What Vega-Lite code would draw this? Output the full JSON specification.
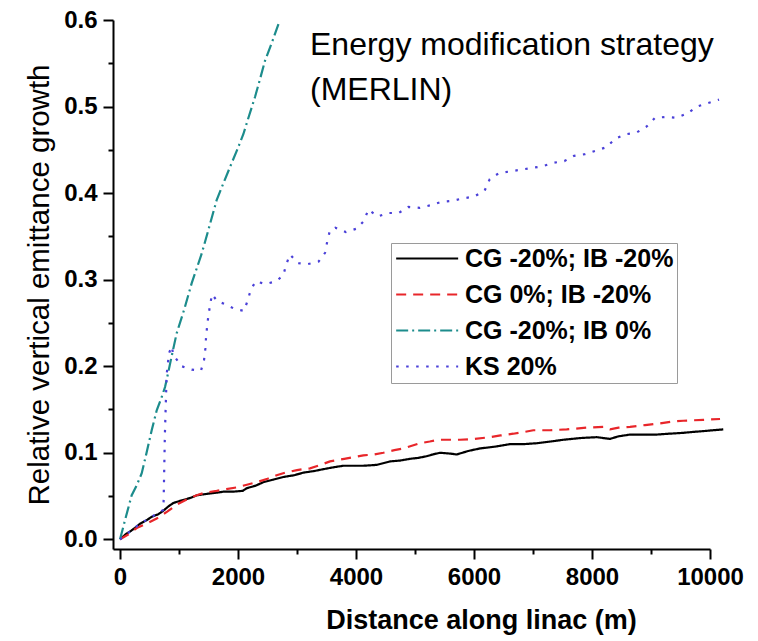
{
  "$schema": "https://vega.github.io/schema/vega-lite/v6.json",
  "width": 597,
  "height": 529,
  "autosize": {"type": "none"},
  "padding": {"left": 113, "top": 20, "right": 48, "bottom": 92},
  "background": "white",
  "config": {
    "view": {"stroke": null},
    "font": "Liberation Sans",
    "axis": {
      "grid": false,
      "domainColor": "black",
      "domainWidth": 2,
      "tickColor": "black",
      "tickWidth": 2,
      "labelFont": "Liberation Sans",
      "labelFontWeight": "bold",
      "labelFontSize": 24,
      "labelColor": "black",
      "labelOverlap": false,
      "labelFlush": false,
      "titleFont": "Liberation Sans",
      "titleColor": "black"
    },
    "legend": {
      "orient": "none",
      "legendX": 278,
      "legendY": 223,
      "padding": 3,
      "strokeColor": "#9a9a9a",
      "fillColor": "white",
      "symbolType": "M-1,0H5",
      "symbolSize": 427,
      "symbolStrokeWidth": 2,
      "labelFont": "Liberation Sans",
      "labelFontWeight": "bold",
      "labelFontSize": 25,
      "labelColor": "black",
      "labelOffset": 46,
      "rowPadding": 10,
      "labelLimit": 400
    }
  },
  "layer": [
    {
      "data": {
        "values": [
          {"series": "CG -20%; IB -20%", "distance": 0, "growth": 0},
          {"series": "CG -20%; IB -20%", "distance": 100, "growth": 0.006},
          {"series": "CG -20%; IB -20%", "distance": 170, "growth": 0.009},
          {"series": "CG -20%; IB -20%", "distance": 250, "growth": 0.013},
          {"series": "CG -20%; IB -20%", "distance": 339, "growth": 0.018},
          {"series": "CG -20%; IB -20%", "distance": 450, "growth": 0.022},
          {"series": "CG -20%; IB -20%", "distance": 537, "growth": 0.026},
          {"series": "CG -20%; IB -20%", "distance": 650, "growth": 0.029},
          {"series": "CG -20%; IB -20%", "distance": 734, "growth": 0.033},
          {"series": "CG -20%; IB -20%", "distance": 820, "growth": 0.038},
          {"series": "CG -20%; IB -20%", "distance": 904, "growth": 0.042},
          {"series": "CG -20%; IB -20%", "distance": 1000, "growth": 0.044},
          {"series": "CG -20%; IB -20%", "distance": 1102, "growth": 0.046},
          {"series": "CG -20%; IB -20%", "distance": 1200, "growth": 0.048},
          {"series": "CG -20%; IB -20%", "distance": 1311, "growth": 0.051},
          {"series": "CG -20%; IB -20%", "distance": 1420, "growth": 0.052},
          {"series": "CG -20%; IB -20%", "distance": 1525, "growth": 0.053},
          {"series": "CG -20%; IB -20%", "distance": 1650, "growth": 0.054},
          {"series": "CG -20%; IB -20%", "distance": 1751, "growth": 0.055},
          {"series": "CG -20%; IB -20%", "distance": 1900, "growth": 0.055},
          {"series": "CG -20%; IB -20%", "distance": 2080, "growth": 0.056},
          {"series": "CG -20%; IB -20%", "distance": 2147, "growth": 0.059},
          {"series": "CG -20%; IB -20%", "distance": 2300, "growth": 0.062},
          {"series": "CG -20%; IB -20%", "distance": 2429, "growth": 0.066},
          {"series": "CG -20%; IB -20%", "distance": 2600, "growth": 0.069},
          {"series": "CG -20%; IB -20%", "distance": 2768, "growth": 0.072},
          {"series": "CG -20%; IB -20%", "distance": 2950, "growth": 0.074},
          {"series": "CG -20%; IB -20%", "distance": 3107, "growth": 0.077},
          {"series": "CG -20%; IB -20%", "distance": 3300, "growth": 0.079},
          {"series": "CG -20%; IB -20%", "distance": 3446, "growth": 0.081},
          {"series": "CG -20%; IB -20%", "distance": 3600, "growth": 0.083},
          {"series": "CG -20%; IB -20%", "distance": 3785, "growth": 0.085},
          {"series": "CG -20%; IB -20%", "distance": 3950, "growth": 0.085},
          {"series": "CG -20%; IB -20%", "distance": 4124, "growth": 0.085},
          {"series": "CG -20%; IB -20%", "distance": 4351, "growth": 0.086},
          {"series": "CG -20%; IB -20%", "distance": 4576, "growth": 0.09},
          {"series": "CG -20%; IB -20%", "distance": 4750, "growth": 0.091},
          {"series": "CG -20%; IB -20%", "distance": 4915, "growth": 0.093},
          {"series": "CG -20%; IB -20%", "distance": 5050, "growth": 0.094},
          {"series": "CG -20%; IB -20%", "distance": 5198, "growth": 0.096},
          {"series": "CG -20%; IB -20%", "distance": 5300, "growth": 0.098},
          {"series": "CG -20%; IB -20%", "distance": 5424, "growth": 0.1},
          {"series": "CG -20%; IB -20%", "distance": 5600, "growth": 0.099},
          {"series": "CG -20%; IB -20%", "distance": 5706, "growth": 0.098},
          {"series": "CG -20%; IB -20%", "distance": 5900, "growth": 0.102},
          {"series": "CG -20%; IB -20%", "distance": 6102, "growth": 0.105},
          {"series": "CG -20%; IB -20%", "distance": 6350, "growth": 0.107},
          {"series": "CG -20%; IB -20%", "distance": 6610, "growth": 0.11},
          {"series": "CG -20%; IB -20%", "distance": 6850, "growth": 0.11},
          {"series": "CG -20%; IB -20%", "distance": 7062, "growth": 0.111},
          {"series": "CG -20%; IB -20%", "distance": 7300, "growth": 0.113},
          {"series": "CG -20%; IB -20%", "distance": 7514, "growth": 0.115},
          {"series": "CG -20%; IB -20%", "distance": 7800, "growth": 0.117},
          {"series": "CG -20%; IB -20%", "distance": 8079, "growth": 0.118},
          {"series": "CG -20%; IB -20%", "distance": 8305, "growth": 0.116},
          {"series": "CG -20%; IB -20%", "distance": 8450, "growth": 0.119},
          {"series": "CG -20%; IB -20%", "distance": 8644, "growth": 0.121},
          {"series": "CG -20%; IB -20%", "distance": 8900, "growth": 0.121},
          {"series": "CG -20%; IB -20%", "distance": 9096, "growth": 0.121},
          {"series": "CG -20%; IB -20%", "distance": 9300, "growth": 0.122},
          {"series": "CG -20%; IB -20%", "distance": 9548, "growth": 0.123},
          {"series": "CG -20%; IB -20%", "distance": 9700, "growth": 0.124},
          {"series": "CG -20%; IB -20%", "distance": 9887, "growth": 0.125},
          {"series": "CG -20%; IB -20%", "distance": 10050, "growth": 0.126},
          {"series": "CG -20%; IB -20%", "distance": 10225, "growth": 0.127},

          {"series": "CG 0%; IB -20%", "distance": 0, "growth": 0},
          {"series": "CG 0%; IB -20%", "distance": 150, "growth": 0.006},
          {"series": "CG 0%; IB -20%", "distance": 282, "growth": 0.013},
          {"series": "CG 0%; IB -20%", "distance": 450, "growth": 0.018},
          {"series": "CG 0%; IB -20%", "distance": 621, "growth": 0.024},
          {"series": "CG 0%; IB -20%", "distance": 800, "growth": 0.032},
          {"series": "CG 0%; IB -20%", "distance": 960, "growth": 0.04},
          {"series": "CG 0%; IB -20%", "distance": 1130, "growth": 0.046},
          {"series": "CG 0%; IB -20%", "distance": 1299, "growth": 0.051},
          {"series": "CG 0%; IB -20%", "distance": 1450, "growth": 0.054},
          {"series": "CG 0%; IB -20%", "distance": 1638, "growth": 0.056},
          {"series": "CG 0%; IB -20%", "distance": 1800, "growth": 0.058},
          {"series": "CG 0%; IB -20%", "distance": 1977, "growth": 0.06},
          {"series": "CG 0%; IB -20%", "distance": 2150, "growth": 0.063},
          {"series": "CG 0%; IB -20%", "distance": 2316, "growth": 0.066},
          {"series": "CG 0%; IB -20%", "distance": 2500, "growth": 0.07},
          {"series": "CG 0%; IB -20%", "distance": 2655, "growth": 0.074},
          {"series": "CG 0%; IB -20%", "distance": 2800, "growth": 0.077},
          {"series": "CG 0%; IB -20%", "distance": 3000, "growth": 0.08},
          {"series": "CG 0%; IB -20%", "distance": 3220, "growth": 0.082},
          {"series": "CG 0%; IB -20%", "distance": 3400, "growth": 0.086},
          {"series": "CG 0%; IB -20%", "distance": 3559, "growth": 0.09},
          {"series": "CG 0%; IB -20%", "distance": 3800, "growth": 0.093},
          {"series": "CG 0%; IB -20%", "distance": 4124, "growth": 0.097},
          {"series": "CG 0%; IB -20%", "distance": 4300, "growth": 0.098},
          {"series": "CG 0%; IB -20%", "distance": 4463, "growth": 0.1},
          {"series": "CG 0%; IB -20%", "distance": 4650, "growth": 0.103},
          {"series": "CG 0%; IB -20%", "distance": 4802, "growth": 0.105},
          {"series": "CG 0%; IB -20%", "distance": 5085, "growth": 0.111},
          {"series": "CG 0%; IB -20%", "distance": 5250, "growth": 0.113},
          {"series": "CG 0%; IB -20%", "distance": 5395, "growth": 0.115},
          {"series": "CG 0%; IB -20%", "distance": 5600, "growth": 0.115},
          {"series": "CG 0%; IB -20%", "distance": 5763, "growth": 0.115},
          {"series": "CG 0%; IB -20%", "distance": 6000, "growth": 0.116},
          {"series": "CG 0%; IB -20%", "distance": 6271, "growth": 0.118},
          {"series": "CG 0%; IB -20%", "distance": 6450, "growth": 0.12},
          {"series": "CG 0%; IB -20%", "distance": 6667, "growth": 0.122},
          {"series": "CG 0%; IB -20%", "distance": 6850, "growth": 0.124},
          {"series": "CG 0%; IB -20%", "distance": 7006, "growth": 0.126},
          {"series": "CG 0%; IB -20%", "distance": 7288, "growth": 0.126},
          {"series": "CG 0%; IB -20%", "distance": 7571, "growth": 0.127},
          {"series": "CG 0%; IB -20%", "distance": 7910, "growth": 0.129},
          {"series": "CG 0%; IB -20%", "distance": 8192, "growth": 0.13},
          {"series": "CG 0%; IB -20%", "distance": 8305, "growth": 0.127},
          {"series": "CG 0%; IB -20%", "distance": 8450, "growth": 0.129},
          {"series": "CG 0%; IB -20%", "distance": 8644, "growth": 0.13},
          {"series": "CG 0%; IB -20%", "distance": 8900, "growth": 0.132},
          {"series": "CG 0%; IB -20%", "distance": 9153, "growth": 0.134},
          {"series": "CG 0%; IB -20%", "distance": 9350, "growth": 0.136},
          {"series": "CG 0%; IB -20%", "distance": 9548, "growth": 0.137},
          {"series": "CG 0%; IB -20%", "distance": 9887, "growth": 0.138},
          {"series": "CG 0%; IB -20%", "distance": 10170, "growth": 0.139},

          {"series": "CG -20%; IB 0%", "distance": 0, "growth": 0},
          {"series": "CG -20%; IB 0%", "distance": 100, "growth": 0.026},
          {"series": "CG -20%; IB 0%", "distance": 198, "growth": 0.051},
          {"series": "CG -20%; IB 0%", "distance": 280, "growth": 0.062},
          {"series": "CG -20%; IB 0%", "distance": 367, "growth": 0.076},
          {"series": "CG -20%; IB 0%", "distance": 450, "growth": 0.1},
          {"series": "CG -20%; IB 0%", "distance": 537, "growth": 0.126},
          {"series": "CG -20%; IB 0%", "distance": 622, "growth": 0.149},
          {"series": "CG -20%; IB 0%", "distance": 700, "growth": 0.163},
          {"series": "CG -20%; IB 0%", "distance": 763, "growth": 0.176},
          {"series": "CG -20%; IB 0%", "distance": 802, "growth": 0.188},
          {"series": "CG -20%; IB 0%", "distance": 880, "growth": 0.213},
          {"series": "CG -20%; IB 0%", "distance": 960, "growth": 0.238},
          {"series": "CG -20%; IB 0%", "distance": 1090, "growth": 0.266},
          {"series": "CG -20%; IB 0%", "distance": 1215, "growth": 0.296},
          {"series": "CG -20%; IB 0%", "distance": 1300, "growth": 0.313},
          {"series": "CG -20%; IB 0%", "distance": 1384, "growth": 0.33},
          {"series": "CG -20%; IB 0%", "distance": 1500, "growth": 0.358},
          {"series": "CG -20%; IB 0%", "distance": 1638, "growth": 0.392},
          {"series": "CG -20%; IB 0%", "distance": 1750, "growth": 0.411},
          {"series": "CG -20%; IB 0%", "distance": 1864, "growth": 0.43},
          {"series": "CG -20%; IB 0%", "distance": 1980, "growth": 0.449},
          {"series": "CG -20%; IB 0%", "distance": 2090, "growth": 0.468},
          {"series": "CG -20%; IB 0%", "distance": 2190, "growth": 0.49},
          {"series": "CG -20%; IB 0%", "distance": 2288, "growth": 0.511},
          {"series": "CG -20%; IB 0%", "distance": 2370, "growth": 0.531},
          {"series": "CG -20%; IB 0%", "distance": 2458, "growth": 0.553},
          {"series": "CG -20%; IB 0%", "distance": 2580, "growth": 0.575},
          {"series": "CG -20%; IB 0%", "distance": 2700, "growth": 0.598},

          {"series": "KS 20%", "distance": 0, "growth": 0},
          {"series": "KS 20%", "distance": 170, "growth": 0.009},
          {"series": "KS 20%", "distance": 339, "growth": 0.018},
          {"series": "KS 20%", "distance": 537, "growth": 0.026},
          {"series": "KS 20%", "distance": 734, "growth": 0.034},
          {"series": "KS 20%", "distance": 740, "growth": 0.047},
          {"series": "KS 20%", "distance": 760, "growth": 0.12},
          {"series": "KS 20%", "distance": 790, "growth": 0.19},
          {"series": "KS 20%", "distance": 830, "growth": 0.215},
          {"series": "KS 20%", "distance": 876, "growth": 0.223},
          {"series": "KS 20%", "distance": 904, "growth": 0.213},
          {"series": "KS 20%", "distance": 1045, "growth": 0.2},
          {"series": "KS 20%", "distance": 1215, "growth": 0.196},
          {"series": "KS 20%", "distance": 1373, "growth": 0.195},
          {"series": "KS 20%", "distance": 1424, "growth": 0.207},
          {"series": "KS 20%", "distance": 1446, "growth": 0.22},
          {"series": "KS 20%", "distance": 1458, "growth": 0.233},
          {"series": "KS 20%", "distance": 1475, "growth": 0.245},
          {"series": "KS 20%", "distance": 1497, "growth": 0.258},
          {"series": "KS 20%", "distance": 1525, "growth": 0.27},
          {"series": "KS 20%", "distance": 1559, "growth": 0.283},
          {"series": "KS 20%", "distance": 1650, "growth": 0.275},
          {"series": "KS 20%", "distance": 1768, "growth": 0.272},
          {"series": "KS 20%", "distance": 1949, "growth": 0.266},
          {"series": "KS 20%", "distance": 2102, "growth": 0.264},
          {"series": "KS 20%", "distance": 2164, "growth": 0.276},
          {"series": "KS 20%", "distance": 2215, "growth": 0.288},
          {"series": "KS 20%", "distance": 2299, "growth": 0.298},
          {"series": "KS 20%", "distance": 2463, "growth": 0.295},
          {"series": "KS 20%", "distance": 2644, "growth": 0.298},
          {"series": "KS 20%", "distance": 2768, "growth": 0.305},
          {"series": "KS 20%", "distance": 2814, "growth": 0.317},
          {"series": "KS 20%", "distance": 2881, "growth": 0.329},
          {"series": "KS 20%", "distance": 3017, "growth": 0.319},
          {"series": "KS 20%", "distance": 3186, "growth": 0.318},
          {"series": "KS 20%", "distance": 3367, "growth": 0.321},
          {"series": "KS 20%", "distance": 3475, "growth": 0.331},
          {"series": "KS 20%", "distance": 3515, "growth": 0.345},
          {"series": "KS 20%", "distance": 3559, "growth": 0.357},
          {"series": "KS 20%", "distance": 3650, "growth": 0.36},
          {"series": "KS 20%", "distance": 3825, "growth": 0.355},
          {"series": "KS 20%", "distance": 4011, "growth": 0.359},
          {"series": "KS 20%", "distance": 4136, "growth": 0.368},
          {"series": "KS 20%", "distance": 4209, "growth": 0.381},
          {"series": "KS 20%", "distance": 4367, "growth": 0.373},
          {"series": "KS 20%", "distance": 4542, "growth": 0.377},
          {"series": "KS 20%", "distance": 4723, "growth": 0.377},
          {"series": "KS 20%", "distance": 4887, "growth": 0.384},
          {"series": "KS 20%", "distance": 5080, "growth": 0.383},
          {"series": "KS 20%", "distance": 5266, "growth": 0.386},
          {"series": "KS 20%", "distance": 5452, "growth": 0.39},
          {"series": "KS 20%", "distance": 5633, "growth": 0.391},
          {"series": "KS 20%", "distance": 5819, "growth": 0.394},
          {"series": "KS 20%", "distance": 6006, "growth": 0.396},
          {"series": "KS 20%", "distance": 6181, "growth": 0.403},
          {"series": "KS 20%", "distance": 6266, "growth": 0.416},
          {"series": "KS 20%", "distance": 6419, "growth": 0.423},
          {"series": "KS 20%", "distance": 6610, "growth": 0.425},
          {"series": "KS 20%", "distance": 6791, "growth": 0.427},
          {"series": "KS 20%", "distance": 6977, "growth": 0.429},
          {"series": "KS 20%", "distance": 7158, "growth": 0.431},
          {"series": "KS 20%", "distance": 7345, "growth": 0.435},
          {"series": "KS 20%", "distance": 7531, "growth": 0.437},
          {"series": "KS 20%", "distance": 7695, "growth": 0.443},
          {"series": "KS 20%", "distance": 7881, "growth": 0.445},
          {"series": "KS 20%", "distance": 8068, "growth": 0.449},
          {"series": "KS 20%", "distance": 8242, "growth": 0.453},
          {"series": "KS 20%", "distance": 8395, "growth": 0.463},
          {"series": "KS 20%", "distance": 8576, "growth": 0.468},
          {"series": "KS 20%", "distance": 8757, "growth": 0.47},
          {"series": "KS 20%", "distance": 8927, "growth": 0.477},
          {"series": "KS 20%", "distance": 9068, "growth": 0.487},
          {"series": "KS 20%", "distance": 9249, "growth": 0.488},
          {"series": "KS 20%", "distance": 9429, "growth": 0.487},
          {"series": "KS 20%", "distance": 9615, "growth": 0.492},
          {"series": "KS 20%", "distance": 9780, "growth": 0.5},
          {"series": "KS 20%", "distance": 9966, "growth": 0.504},
          {"series": "KS 20%", "distance": 10153, "growth": 0.508}
        ]
      },
      "mark": {"type": "line", "strokeWidth": 2.2, "clip": false, "interpolate": "linear"},
      "encoding": {
        "x": {
          "field": "distance",
          "type": "quantitative",
          "scale": {"domain": [-119, 10000], "nice": false, "zero": false},
          "axis": {
            "title": "Distance along linac (m)",
            "titleFontSize": 27,
            "titleFontWeight": "bold",
            "titleX": 368,
            "titleY": 79,
            "titleAlign": "center",
            "titleBaseline": "alphabetic",
            "values": [0, 1000, 2000, 3000, 4000, 5000, 6000, 7000, 8000, 9000, 10000],
            "labelExpr": "datum.value % 2000 === 0 ? format(datum.value, 'd') : ''",
            "tickSize": {"condition": {"test": "datum.value % 2000 === 0", "value": 10}, "value": 5},
            "labelPadding": 6
          }
        },
        "y": {
          "field": "growth",
          "type": "quantitative",
          "scale": {"domain": [-0.0112, 0.6], "nice": false, "zero": false},
          "axis": {
            "title": "Relative vertical emittance growth",
            "titleFontSize": 29.5,
            "titleFontWeight": "normal",
            "titlePadding": 9,
            "values": [0, 0.05, 0.1, 0.15, 0.2, 0.25, 0.3, 0.35, 0.4, 0.45, 0.5, 0.55, 0.6],
            "labelExpr": "round(datum.value * 100) % 10 === 0 ? format(datum.value, '.1f') : ''",
            "tickSize": {"condition": {"test": "round(datum.value * 100) % 10 === 0", "value": 10}, "value": 5},
            "labelPadding": 6
          }
        },
        "color": {
          "field": "series",
          "type": "nominal",
          "scale": {
            "domain": ["CG -20%; IB -20%", "CG 0%; IB -20%", "CG -20%; IB 0%", "KS 20%"],
            "range": ["#000000", "#e8262a", "#1c8c8c", "#4a40d8"]
          },
          "legend": {"title": null}
        },
        "strokeDash": {
          "field": "series",
          "type": "nominal",
          "scale": {
            "domain": ["CG -20%; IB -20%", "CG 0%; IB -20%", "CG -20%; IB 0%", "KS 20%"],
            "range": [[1, 0], [10, 7], [12, 4, 2, 4], [2.5, 7.5]]
          },
          "legend": {"title": null}
        }
      }
    },
    {
      "data": {"values": [{"note": "Energy modification strategy\n(MERLIN)"}]},
      "mark": {
        "type": "text",
        "align": "left",
        "baseline": "alphabetic",
        "lineBreak": "\n",
        "lineHeight": 45,
        "font": "Liberation Sans",
        "fontSize": 32,
        "color": "black"
      },
      "encoding": {
        "x": {"datum": 3220, "type": "quantitative"},
        "y": {"datum": 0.56, "type": "quantitative"},
        "text": {"field": "note", "type": "nominal"}
      }
    }
  ]
}
